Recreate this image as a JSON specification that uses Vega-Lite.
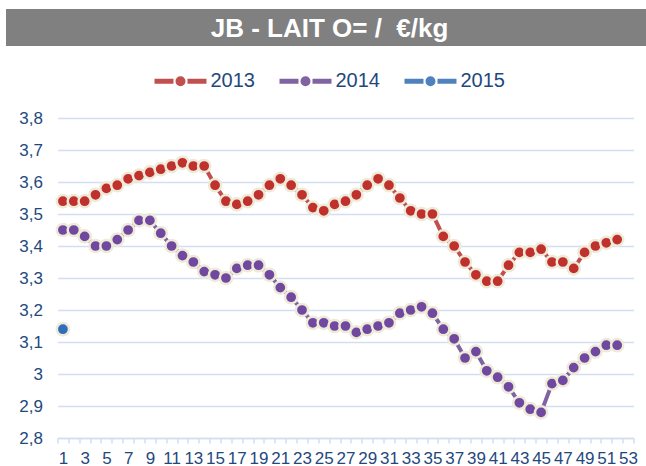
{
  "$schema": "https://vega.github.io/schema/vega-lite/v6.json",
  "background": "white",
  "padding": {"left": 6, "top": 9, "right": -43, "bottom": 0},
  "center": true,
  "bounds": "full",
  "spacing": 25,
  "resolve": {"scale": {"fill": "independent", "stroke": "independent"}, "legend": {"fill": "independent", "stroke": "independent"}},
  "config": {
    "font": "Liberation Sans",
    "view": {"stroke": null}
  },
  "datasets": {
    "prices": [
      {"w":1,"y":"2013","v":3.54},{"w":2,"y":"2013","v":3.54},{"w":3,"y":"2013","v":3.54},{"w":4,"y":"2013","v":3.56},{"w":5,"y":"2013","v":3.58},{"w":6,"y":"2013","v":3.59},{"w":7,"y":"2013","v":3.61},{"w":8,"y":"2013","v":3.62},{"w":9,"y":"2013","v":3.63},{"w":10,"y":"2013","v":3.64},
      {"w":11,"y":"2013","v":3.65},{"w":12,"y":"2013","v":3.66},{"w":13,"y":"2013","v":3.65},{"w":14,"y":"2013","v":3.65},{"w":15,"y":"2013","v":3.59},{"w":16,"y":"2013","v":3.54},{"w":17,"y":"2013","v":3.53},{"w":18,"y":"2013","v":3.54},{"w":19,"y":"2013","v":3.56},{"w":20,"y":"2013","v":3.59},
      {"w":21,"y":"2013","v":3.61},{"w":22,"y":"2013","v":3.59},{"w":23,"y":"2013","v":3.56},{"w":24,"y":"2013","v":3.52},{"w":25,"y":"2013","v":3.51},{"w":26,"y":"2013","v":3.53},{"w":27,"y":"2013","v":3.54},{"w":28,"y":"2013","v":3.56},{"w":29,"y":"2013","v":3.59},{"w":30,"y":"2013","v":3.61},
      {"w":31,"y":"2013","v":3.59},{"w":32,"y":"2013","v":3.55},{"w":33,"y":"2013","v":3.51},{"w":34,"y":"2013","v":3.50},{"w":35,"y":"2013","v":3.50},{"w":36,"y":"2013","v":3.43},{"w":37,"y":"2013","v":3.40},{"w":38,"y":"2013","v":3.35},{"w":39,"y":"2013","v":3.31},{"w":40,"y":"2013","v":3.29},
      {"w":41,"y":"2013","v":3.29},{"w":42,"y":"2013","v":3.34},{"w":43,"y":"2013","v":3.38},{"w":44,"y":"2013","v":3.38},{"w":45,"y":"2013","v":3.39},{"w":46,"y":"2013","v":3.35},{"w":47,"y":"2013","v":3.35},{"w":48,"y":"2013","v":3.33},{"w":49,"y":"2013","v":3.38},{"w":50,"y":"2013","v":3.40},
      {"w":51,"y":"2013","v":3.41},{"w":52,"y":"2013","v":3.42},
      {"w":1,"y":"2014","v":3.45},{"w":2,"y":"2014","v":3.45},{"w":3,"y":"2014","v":3.43},{"w":4,"y":"2014","v":3.40},{"w":5,"y":"2014","v":3.40},{"w":6,"y":"2014","v":3.42},{"w":7,"y":"2014","v":3.45},{"w":8,"y":"2014","v":3.48},{"w":9,"y":"2014","v":3.48},{"w":10,"y":"2014","v":3.44},
      {"w":11,"y":"2014","v":3.40},{"w":12,"y":"2014","v":3.37},{"w":13,"y":"2014","v":3.35},{"w":14,"y":"2014","v":3.32},{"w":15,"y":"2014","v":3.31},{"w":16,"y":"2014","v":3.30},{"w":17,"y":"2014","v":3.33},{"w":18,"y":"2014","v":3.34},{"w":19,"y":"2014","v":3.34},{"w":20,"y":"2014","v":3.31},
      {"w":21,"y":"2014","v":3.27},{"w":22,"y":"2014","v":3.24},{"w":23,"y":"2014","v":3.20},{"w":24,"y":"2014","v":3.16},{"w":25,"y":"2014","v":3.16},{"w":26,"y":"2014","v":3.15},{"w":27,"y":"2014","v":3.15},{"w":28,"y":"2014","v":3.13},{"w":29,"y":"2014","v":3.14},{"w":30,"y":"2014","v":3.15},
      {"w":31,"y":"2014","v":3.16},{"w":32,"y":"2014","v":3.19},{"w":33,"y":"2014","v":3.20},{"w":34,"y":"2014","v":3.21},{"w":35,"y":"2014","v":3.19},{"w":36,"y":"2014","v":3.14},{"w":37,"y":"2014","v":3.11},{"w":38,"y":"2014","v":3.05},{"w":39,"y":"2014","v":3.07},{"w":40,"y":"2014","v":3.01},
      {"w":41,"y":"2014","v":2.99},{"w":42,"y":"2014","v":2.96},{"w":43,"y":"2014","v":2.91},{"w":44,"y":"2014","v":2.89},{"w":45,"y":"2014","v":2.88},{"w":46,"y":"2014","v":2.97},{"w":47,"y":"2014","v":2.98},{"w":48,"y":"2014","v":3.02},{"w":49,"y":"2014","v":3.05},{"w":50,"y":"2014","v":3.07},
      {"w":51,"y":"2014","v":3.09},{"w":52,"y":"2014","v":3.09},
      {"w":1,"y":"2015","v":3.14}
    ]
  },
  "vconcat": [
    {
      "width": 683,
      "height": 37,
      "view": {"fill": "#808080", "stroke": null},
      "data": {"values": [{"t": "JB - LAIT O= /\u00a0 €/kg"}]},
      "mark": {"type": "text", "color": "white", "fontSize": 26, "fontWeight": "bold", "font": "Liberation Sans", "baseline": "middle", "align": "center", "dx": -18, "dy": 1},
      "encoding": {"text": {"field": "t"}}
    },
    {
      "width": 576,
      "height": 320,
      "data": {"name": "prices"},
      "encoding": {
        "x": {
          "field": "w",
          "type": "ordinal",
          "sort": "ascending",
          "scale": {"type": "band", "paddingInner": 0, "paddingOuter": 0, "domain": [1,2,3,4,5,6,7,8,9,10,11,12,13,14,15,16,17,18,19,20,21,22,23,24,25,26,27,28,29,30,31,32,33,34,35,36,37,38,39,40,41,42,43,44,45,46,47,48,49,50,51,52,53]},
          "axis": {
            "title": null,
            "tickBand": "extent",
            "labelAngle": 0,
            "labelExpr": "datum.value % 2 == 1 ? datum.label : ''",
            "labelOverlap": false,
            "labelFontSize": 17,
            "labelColor": "#1F497D",
            "labelPadding": 7,
            "domainColor": "#D3DEF0",
            "domainWidth": 1.5,
            "tickColor": "#D3DEF0",
            "tickWidth": 1.5,
            "tickSize": 5,
            "grid": false
          }
        },
        "y": {
          "field": "v",
          "type": "quantitative",
          "scale": {"domain": [2.8, 3.8], "zero": false, "nice": false},
          "axis": {
            "title": null,
            "values": [2.8,2.9,3.0,3.1,3.2,3.3,3.4,3.5,3.6,3.7,3.8],
            "labelExpr": "replace(format(datum.value, '.1~f'), '.', ',')",
            "labelFontSize": 17,
            "labelColor": "#1F497D",
            "labelPadding": 15,
            "ticks": false,
            "tickSize": 0,
            "domain": false,
            "grid": true,
            "gridColor": "#D3DEF0",
            "gridWidth": 1.5
          }
        }
      },
      "layer": [
        {
          "mark": {"type": "line", "strokeWidth": 4},
          "encoding": {
            "stroke": {
              "field": "y",
              "type": "nominal",
              "scale": {"domain": ["2013","2014","2015"], "range": ["#C0504D","#8064A2","#4F81BD"]},
              "legend": {
                "title": "\u00a0",
                "titleOrient": "left",
                "titleFontSize": 1,
                "titlePadding": 134,
                "orient": "top",
                "offset": 24,
                "direction": "horizontal",
                "symbolType": "M-9.4,0H-5.6 M-2.8,0H1 M-3.7,0A0.5,0.5 0 1,1 -4.7,0A0.5,0.5 0 1,1 -3.7,0",
                "symbolSize": 100,
                "symbolStrokeWidth": 5,
                "labelFontSize": 20,
                "labelColor": "#1F497D",
                "labelOffset": -1,
                "columnPadding": 14
              }
            }
          }
        },
        {
          "mark": {"type": "point", "shape": "circle", "filled": true, "size": 150, "stroke": "#EEEAD8", "strokeWidth": 2.5, "opacity": 1},
          "encoding": {
            "fill": {
              "field": "y",
              "type": "nominal",
              "scale": {"domain": ["2013","2014","2015"], "range": ["#C0302D","#7048A0","#2F6EBA"]},
              "legend": null
            }
          }
        }
      ]
    }
  ]
}
